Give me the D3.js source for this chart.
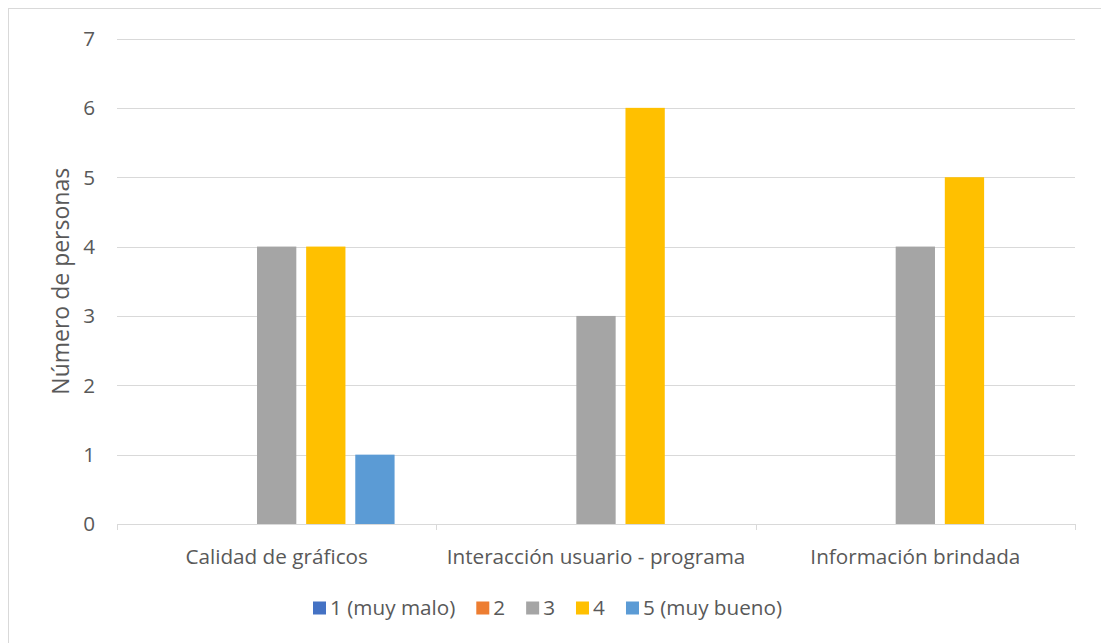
<!DOCTYPE html>
<html>
<head>
<meta charset="utf-8">
<script src="https://cdn.jsdelivr.net/npm/d3@7"></script>
<style>
  html, body { margin: 0; padding: 0; background: #fff; }
  svg { display: block; font-family: "Open Sans", "Noto Sans", sans-serif; }
</style>
</head>
<body>
<svg id="chart" width="1101" height="643"></svg>
<script>
// Survey results: number of people per rating, for each evaluated aspect
const categories = ["Calidad de gráficos", "Interacción usuario - programa", "Información brindada"];
const seriesNames = ["1 (muy malo)", "2", "3", "4", "5 (muy bueno)"];
const seriesColors = ["#4472C4", "#ED7D31", "#A5A5A5", "#FFC000", "#5B9BD5"];
const rating1 = [0, 0, 0];
const rating2 = [0, 0, 0];
const rating3 = [4, 3, 4];
const rating4 = [4, 6, 5];
const rating5 = [1, 0, 0];
const yTicks = [0, 1, 2, 3, 4, 5, 6, 7];
const yTitle = "Número de personas";

const seriesValues = [rating1, rating2, rating3, rating4, rating5];

const svg = d3.select("#chart");
const W = 1101, H = 643;
const plot = { left: 117, right: 1075, top: 38.5, bottom: 524 };
const textColor = "#595959";
const fontSize = 20.7;

// chart frame
svg.append("rect")
  .attr("x", 8.5).attr("y", 8.5)
  .attr("width", W).attr("height", H)
  .attr("fill", "#fff").attr("stroke", "#d9d9d9").attr("stroke-width", 1);

const x0 = d3.scaleBand().domain(categories).range([plot.left, plot.right]).paddingInner(0).paddingOuter(0);
const x1 = d3.scaleBand().domain(seriesNames).range([0, x0.bandwidth()]).paddingInner(0.2).paddingOuter(0.85);
const y = d3.scaleLinear().domain([0, 7]).range([plot.bottom, plot.top]);

// gridlines
svg.append("g").selectAll("line").data(yTicks.filter(t => t > 0)).join("line")
  .attr("x1", plot.left).attr("x2", plot.right)
  .attr("y1", d => Math.round(y(d)) + 0.5).attr("y2", d => Math.round(y(d)) + 0.5)
  .attr("stroke", "#d9d9d9").attr("stroke-width", 1);

// y tick labels
svg.append("g").selectAll("text").data(yTicks).join("text")
  .attr("x", 95).attr("y", d => y(d))
  .attr("dy", "0.36em").attr("text-anchor", "end")
  .attr("fill", textColor).attr("font-size", fontSize)
  .text(d => d);

// bars
const groups = svg.append("g").selectAll("g").data(categories).join("g")
  .attr("transform", c => `translate(${x0(c)},0)`);
groups.selectAll("rect")
  .data((c, ci) => seriesNames.map((s, si) => ({ s, si, v: seriesValues[si][ci] })))
  .join("rect")
  .attr("x", d => x1(d.s))
  .attr("width", x1.bandwidth())
  .attr("y", d => y(d.v))
  .attr("height", d => y(0) - y(d.v))
  .attr("fill", d => seriesColors[d.si]);

// x axis
const xAxis = svg.append("g");
xAxis.append("line")
  .attr("x1", plot.left).attr("x2", plot.right)
  .attr("y1", plot.bottom + 0.5).attr("y2", plot.bottom + 0.5)
  .attr("stroke", "#d9d9d9");
const tickXs = categories.map(c => x0(c)).concat([plot.right]);
xAxis.selectAll("line.tick").data(tickXs).join("line")
  .attr("class", "tick")
  .attr("x1", d => Math.round(d) + 0.5).attr("x2", d => Math.round(d) + 0.5)
  .attr("y1", plot.bottom).attr("y2", plot.bottom + 6)
  .attr("stroke", "#d9d9d9");
xAxis.selectAll("text").data(categories).join("text")
  .attr("x", c => x0(c) + x0.bandwidth() / 2)
  .attr("y", 557).attr("dy", "0.36em")
  .attr("text-anchor", "middle")
  .attr("fill", textColor).attr("font-size", fontSize)
  .text(c => c);

// y axis title
svg.append("text")
  .attr("transform", `translate(61,${(plot.top + plot.bottom) / 2}) rotate(-90)`)
  .attr("dy", "0.36em").attr("text-anchor", "middle")
  .attr("fill", textColor).attr("font-size", 23)
  .text(yTitle);

// legend
const legend = svg.append("g");
const items = legend.selectAll("g").data(seriesNames).join("g");
items.append("rect")
  .attr("width", 13).attr("height", 13).attr("y", -6.5)
  .attr("fill", (d, i) => seriesColors[i]);
items.append("text")
  .attr("x", 17).attr("dy", "0.36em")
  .attr("fill", textColor).attr("font-size", fontSize)
  .text(d => d);
const gap = 21;
const widths = items.nodes().map(n => n.getBBox().width);
let cx = 313;
items.attr("transform", (d, i) => {
  const t = `translate(${cx},608)`;
  cx += widths[i] + gap;
  return t;
});
</script>
</body>
</html>
